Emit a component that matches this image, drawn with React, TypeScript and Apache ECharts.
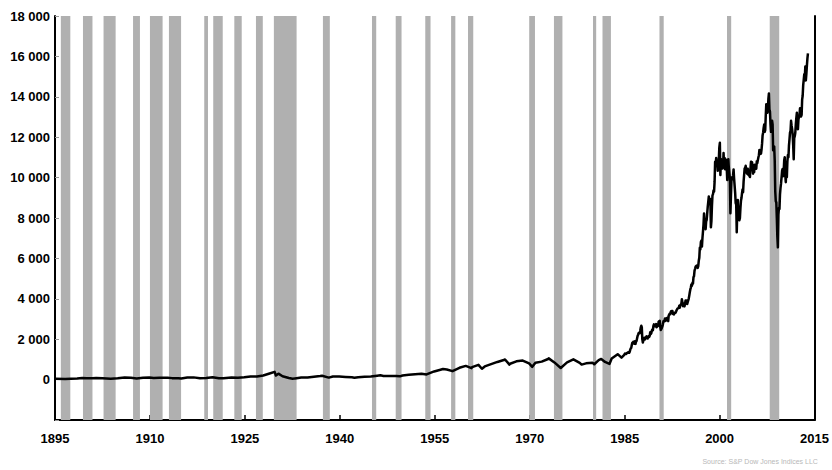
import React, { useEffect, useRef } from "react";
import * as echarts from "echarts";

const BASE_YEAR = 1895;
const X_TICK_STEP = 15;
const X_SPAN = 120;

const Y_MIN = -2000;
const Y_MAX = 18000;
const Y_STEP = 2000;

// Recessions (decimal years)
const recessionStarts = [
  1895.92, 1899.42, 1902.67, 1907.33, 1910.0, 1913.0, 1918.58, 1920.0, 1923.33, 1926.75,
  1929.58, 1937.33, 1945.08, 1948.83, 1953.5, 1957.58, 1960.25, 1969.92, 1973.83, 1980.0,
  1981.5, 1990.5, 2001.17, 2007.92,
];
const recessionEnds = [
  1897.42, 1900.92, 1904.58, 1908.42, 1912.0, 1914.92, 1919.17, 1921.5, 1924.5, 1927.83,
  1933.17, 1938.42, 1945.75, 1949.75, 1954.33, 1958.25, 1961.08, 1970.83, 1975.17, 1980.5,
  1982.83, 1991.17, 2001.83, 2009.42,
];

// DJIA, sparse points 1895-1984
const earlyYears = [
  1895.0, 1896.6, 1897.5, 1898.5, 1899.3, 1900.0, 1900.9, 1901.5, 1902.5, 1903.8,
  1904.9, 1906.0, 1907.0, 1907.9, 1908.9, 1909.9, 1910.6, 1911.5, 1912.8, 1913.5,
  1914.5, 1914.95, 1915.9, 1916.9, 1917.9, 1918.9, 1919.9, 1920.9, 1921.6, 1922.9,
  1923.9, 1924.9, 1925.9, 1926.9, 1927.9, 1928.9, 1929.7, 1929.9, 1930.3, 1930.95,
  1931.95, 1932.55, 1932.9, 1933.9, 1934.9, 1935.9, 1936.9, 1937.2, 1938.25, 1938.9,
  1939.9, 1940.9, 1941.9, 1942.3, 1942.9, 1943.9, 1944.9, 1945.9, 1946.4, 1946.9,
  1947.9, 1948.9, 1949.5, 1949.9, 1950.9, 1951.9, 1952.9, 1953.7, 1953.9, 1954.9,
  1955.9, 1956.3, 1956.9, 1957.8, 1958.9, 1959.9, 1960.8, 1960.9, 1961.9, 1962.45,
  1962.9, 1963.9, 1964.9, 1965.9, 1966.1, 1966.8, 1966.9, 1967.9, 1968.9, 1969.9,
  1970.4, 1970.9, 1971.9, 1972.9, 1973.0, 1973.9, 1974.9, 1975.9, 1976.9, 1977.9,
  1978.2, 1978.9, 1979.9, 1980.2, 1980.9, 1981.3, 1981.9, 1982.6, 1982.95, 1983.9,
  1984.5, 1984.9,
];
const earlyValues = [
  40, 29, 45, 55, 77, 65, 70, 75, 66, 43,
  69, 103, 94, 53, 86, 99, 74, 86, 94, 73,
  71, 55, 99, 110, 66, 82, 119, 67, 64, 103,
  93, 120, 159, 155, 200, 300, 381, 199, 294, 165,
  78, 41, 60, 100, 104, 144, 180, 194, 99, 155,
  150, 131, 111, 93, 119, 136, 152, 193, 212, 177,
  181, 177, 161, 200, 235, 269, 292, 255, 281, 404,
  488, 521, 500, 419, 584, 679, 566, 616, 731, 535,
  652, 763, 874, 969, 995, 744, 786, 905, 944, 800,
  631, 839, 890, 1020, 1051, 851, 577, 852, 1005, 831,
  742, 805, 839, 759, 964, 1024, 875, 777, 1047, 1259,
  1086, 1212,
];

// DJIA monthly, from Jan 1985
const monthlyStartYear = 1985;
const monthlyValues = [
  1287, 1284, 1267, 1258, 1315, 1336, 1348, 1334, 1329, 1374, 1472, 1547,
  1571, 1709, 1819, 1784, 1877, 1893, 1775, 1898, 1768, 1878, 1914, 1896,
  2158, 2224, 2305, 2286, 2292, 2419, 2572, 2663, 2596, 1994, 1834, 1939,
  1958, 2072, 1988, 2032, 2031, 2142, 2129, 2032, 2113, 2149, 2114, 2169,
  2342, 2258, 2294, 2419, 2480, 2440, 2661, 2737, 2693, 2645, 2706, 2753,
  2591, 2627, 2707, 2657, 2877, 2881, 2905, 2614, 2453, 2442, 2560, 2634,
  2736, 2882, 2914, 2888, 3028, 2907, 3025, 3044, 3017, 3069, 2895, 3169,
  3224, 3268, 3236, 3359, 3397, 3319, 3394, 3257, 3272, 3227, 3306, 3301,
  3310, 3371, 3436, 3428, 3527, 3516, 3540, 3651, 3555, 3681, 3684, 3754,
  3978, 3832, 3636, 3682, 3758, 3625, 3765, 3913, 3843, 3908, 3739, 3834,
  3844, 4011, 4158, 4321, 4465, 4556, 4709, 4647, 4789, 4756, 5075, 5117,
  5395, 5486, 5588, 5569, 5643, 5655, 5529, 5616, 5882, 6029, 6522, 6448,
  6813, 6878, 6584, 7009, 7331, 7673, 8223, 7622, 7945, 7442, 7823, 7908,
  7907, 8546, 8800, 9063, 8900, 8952, 8883, 7539, 7843, 8592, 9117, 9181,
  9359, 9307, 9786, 10789, 10560, 10971, 10655, 10829, 10337, 10730, 10878, 11497,
  11723, 10128, 10922, 10734, 10522, 10448, 10522, 11215, 10651, 10971, 10415, 10788,
  10887, 10495, 9879, 10735, 10912, 10502, 10523, 9950, 8235, 9075, 9852, 10022,
  9920, 10106, 10404, 9946, 9925, 9243, 8737, 8664, 7290, 8397, 8896, 8342,
  8054, 7891, 7992, 8480, 8850, 8985, 9234, 9416, 9275, 9801, 9782, 10454,
  10488, 10584, 10358, 10226, 10188, 10435, 10140, 10174, 10080, 10027, 10428, 10783,
  10490, 10766, 10504, 10193, 10467, 10275, 10641, 10482, 10569, 10440, 10806, 10718,
  10865, 10993, 11109, 11367, 11168, 11150, 11186, 11381, 11679, 12081, 12221, 12463,
  12622, 12269, 12354, 13063, 13628, 13409, 13212, 13358, 13896, 14165, 13372, 13265,
  12650, 12266, 12263, 12820, 12638, 11350, 11378, 11544, 10851, 9325, 8829, 8776,
  8001, 7063, 6547, 8168, 8500, 8447, 9172, 9496, 9712, 9713, 10345, 10428,
  10067, 10325, 10857, 11009, 10137, 9774, 10466, 10015, 10788, 11118, 11006, 11578,
  11892, 12226, 12320, 12811, 12570, 12414, 12143, 11614, 10913, 11955, 12046, 12218,
  12633, 12952, 13212, 13214, 12393, 12880, 13009, 13091, 13437, 13096, 13026, 13104,
  13861, 14054, 14579, 14840, 15116, 14910, 15500, 14810, 15130, 15546, 15900, 16150,
];

const sourceText = "Source: S&P Dow Jones Indices LLC";

const FONT = "'Liberation Sans', Arial, sans-serif";

function fmtThousands(v: number): string {
  if (v < 0) return "";
  if (v < 1000) return String(v);
  const th = Math.floor(v / 1000);
  const rest = String(v % 1000).padStart(3, "0");
  return `${th} ${rest}`;
}

export default function App() {
  const ref = useRef<HTMLDivElement>(null);

  useEffect(() => {
    document.body.style.margin = "0";
    if (!ref.current) return;
    const chart = echarts.init(ref.current, undefined, { renderer: "svg" });

    const lineData: [number, number][] = [];
    earlyYears.forEach((y, i) => lineData.push([y - BASE_YEAR, earlyValues[i]]));
    monthlyValues.forEach((v, i) =>
      lineData.push([monthlyStartYear + (i + 0.5) / 12 - BASE_YEAR, v])
    );

    const areas = recessionStarts.map((s, i) => [
      { xAxis: s - BASE_YEAR },
      { xAxis: recessionEnds[i] - BASE_YEAR },
    ]);

    chart.setOption({
      animation: false,
      backgroundColor: "#ffffff",
      grid: { left: 55, right: 17, top: 16, bottom: 50 },
      xAxis: {
        type: "value",
        min: 0,
        max: X_SPAN,
        interval: X_TICK_STEP,
        axisLine: { show: true, onZero: false, lineStyle: { color: "#000", width: 2 } },
        axisTick: { show: true, inside: true, length: 5, lineStyle: { color: "#000", width: 1.5 } },
        axisLabel: {
          formatter: (v: number) => String(v + BASE_YEAR),
          color: "#000",
          fontWeight: "bold",
          fontSize: 13,
          fontFamily: FONT,
          margin: 12,
        },
        splitLine: { show: false },
      },
      yAxis: [
        {
          type: "value",
          min: Y_MIN,
          max: Y_MAX,
          interval: Y_STEP,
          axisLine: { show: true, onZero: false, lineStyle: { color: "#000", width: 2 } },
          axisTick: { show: true, inside: true, length: 4, lineStyle: { color: "#999", width: 1 } },
          axisLabel: {
            formatter: (v: number) => fmtThousands(v),
            color: "#000",
            fontWeight: "bold",
            fontSize: 13,
            fontFamily: FONT,
            margin: 5,
          },
          splitLine: { show: false },
        },
        {
          type: "value",
          position: "right",
          min: Y_MIN,
          max: Y_MAX,
          interval: Y_STEP,
          axisLine: { show: true, onZero: false, lineStyle: { color: "#000", width: 2 } },
          axisTick: { show: false },
          axisLabel: { show: false },
          splitLine: { show: false },
        },
      ],
      series: [
        {
          type: "line",
          data: [],
          z: 1,
          silent: true,
          markArea: {
            silent: true,
            itemStyle: { color: "#b0b0b0", opacity: 1 },
            data: areas,
          },
        },
        {
          type: "line",
          data: lineData,
          z: 3,
          symbol: "none",
          lineStyle: { color: "#000", width: 2.5, join: "round" },
          silent: true,
        },
      ],
      graphic: [
        {
          type: "text",
          right: 14,
          top: 458,
          style: {
            text: sourceText,
            fontSize: 7,
            fill: "#b8b8b8",
            fontFamily: FONT,
          },
        },
      ],
    });

    return () => chart.dispose();
  }, []);

  return <div ref={ref} style={{ width: 832, height: 470 }} />;
}
